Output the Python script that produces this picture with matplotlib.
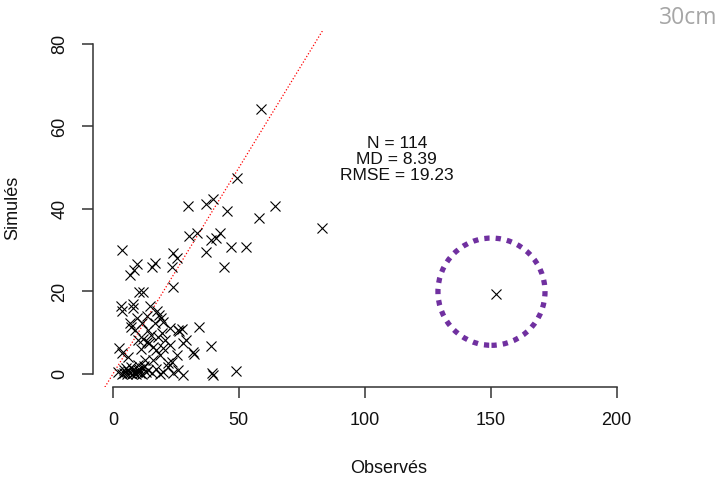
import matplotlib
matplotlib.use("Agg")
import matplotlib.pyplot as plt
from matplotlib.patches import Ellipse

observes = [58.6, 49.4, 29.8, 36.9, 39.9, 45.4, 64.5, 58.0, 83.0, 30.1,
            33.2, 38.8, 42.6, 41.0, 47.0, 52.7, 36.9, 44.1, 3.6, 23.9,
            25.5, 23.3, 16.9, 15.4, 9.4, 8.5, 6.8, 23.9, 10.5, 12.0,
            151.9, 3.1, 3.5, 7.8, 8.1, 14.9, 17.6, 18.2, 34.2, 27.4,
            26.4, 29.2, 38.9, 31.6, 32.0, 2.4, 3.5, 48.7, 39.3, 39.9,
            27.9, 6.7, 9.4, 11.4, 16.7, 20.0, 8.7, 14.0, 22.6, 12.0,
            13.4, 10.0, 18.0, 20.6, 16.0, 20.0, 22.6, 25.3, 18.7, 6.1,
            12.7, 21.9, 10.0, 25.9, 27.9, 7.3, 14.5, 17.0, 23.5, 15.0,
            19.5, 11.0, 2.0, 3.5, 4.5, 5.5, 6.0, 6.8, 7.5, 8.0,
            8.5, 9.0, 9.5, 10.2, 10.8, 11.5, 12.0, 13.0, 14.0, 15.5,
            17.0, 18.5, 20.0, 22.0, 24.0, 26.0, 5.0, 7.0, 12.5, 16.0,
            4.2, 9.8, 13.5, 19.0]
simules = [64.3, 47.4, 40.7, 41.2, 42.3, 39.5, 40.7, 37.9, 35.3, 33.4,
           34.1, 32.6, 34.1, 32.9, 30.8, 30.7, 29.5, 26.0, 30.0, 29.3,
           28.0, 26.0, 27.0, 26.0, 26.6, 25.2, 23.9, 21.0, 19.9, 19.8,
           19.3, 16.5, 15.3, 16.9, 15.9, 16.5, 15.3, 14.3, 11.5, 10.8,
           10.3, 8.2, 6.9, 5.4, 4.8, 6.2, 5.0, 0.7, 0.3, -0.2,
           -0.2, 12.4, 13.5, 12.3, 12.3, 12.7, 10.7, 10.7, 11.2, 8.6,
           7.8, 8.2, 9.0, 8.2, 6.6, 6.2, 7.0, 4.6, 4.6, 4.2,
           3.4, 2.6, 2.2, 10.7, 7.4, 11.5, 7.5, 5.8, 3.0, 9.5,
           10.0, 6.0, 0.5, 0.0, 0.3, 0.0, 0.8, 0.2, 0.0, 1.0,
           0.3, 0.0, 0.6, 1.2, 0.2, 0.0, 1.5, 0.4, 1.0, 0.2,
           1.3, 0.0, 0.5, 1.8, 0.2, 1.0, 1.5, 1.8, 2.0, 3.5,
           0.9, 0.9, 14.0, 13.5]

stats_lines = ["N = 114", "MD = 8.39", "RMSE = 19.23"]
x_ticks = [0, 50, 100, 150, 200]
y_ticks = [0, 20, 40, 60, 80]

plt.rcParams['font.family'] = ['Liberation Sans', 'DejaVu Sans']

fig = plt.figure(figsize=(7.22, 4.78), dpi=100)
ax = fig.add_axes([0.1285, 0.190, 0.7535, 0.7456])

ax.set_xlim(-8, 208)
ax.set_ylim(-3.2, 83.2)

# 1:1 line
ax.plot([-20, 220], [-20, 220], color='red', linestyle=(0, (1.0, 1.6)),
        linewidth=0.9, zorder=2)

ax.scatter(observes, simules, marker='x', s=52, color='black',
           linewidths=0.8, zorder=3)

# annotation
for i, line in enumerate(stats_lines):
    ax.text(112.7, 55.8 - i * 3.9, line, ha='center', va='center',
            fontsize=12.5, color='#111111')

# highlight circle (pixel-round)
circ = Ellipse((150.3, 19.95), width=42.5, height=26.0, fill=False,
               edgecolor='#7030A0', linewidth=3.8,
               linestyle=(0, (1, 1.15)), zorder=4)
circ.set_capstyle('butt')
ax.add_patch(circ)

for s in ['top', 'right']:
    ax.spines[s].set_visible(False)
ax.spines['left'].set_bounds(0, 80)
ax.spines['bottom'].set_bounds(0, 200)
for s in ['left', 'bottom']:
    ax.spines[s].set_linewidth(1.1)
    ax.spines[s].set_color('#333333')

ax.set_xticks(x_ticks)
ax.set_yticks(y_ticks)
ax.tick_params(axis='both', direction='out', length=7.7, width=1.1,
               color='#333333', labelsize=13, labelcolor='#111111')
ax.tick_params(axis='x', pad=10)
ax.tick_params(axis='y', pad=10)
for lab in ax.get_yticklabels():
    lab.set_rotation(90)
    lab.set_va('center')
    lab.set_ha('right')

ax.set_xlabel('Observés', fontsize=13, color='#111111')
ax.xaxis.set_label_coords(0.544, -0.205)
ax.xaxis.label.set_va('top')
ax.set_ylabel('Simulés', fontsize=13, color='#111111')
ax.yaxis.set_label_coords(-0.132, 0.5025)

fig.text(717 / 722, 1 - 17.5 / 478, '30cm', ha='right', va='center',
         fontsize=16.5, color='#A6A6A6', family=['Open Sans', 'DejaVu Sans'])

fig.savefig('out.png', dpi=100)
